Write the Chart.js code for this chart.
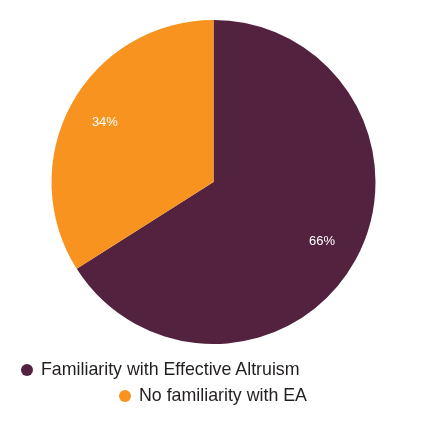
<!DOCTYPE html>
<html>
<head>
<meta charset="utf-8">
<script src="https://cdn.jsdelivr.net/npm/chart.js@4/dist/chart.umd.min.js"></script>
<style>
  html, body { margin: 0; padding: 0; background: #fff; }
  #wrap { position: relative; width: 427px; height: 426px; }
  #legend { position: absolute; left: 0; top: 0; width: 427px; height: 426px; pointer-events: none;
    font-family: "Liberation Sans", Arial, sans-serif; font-size: 17.8px; color: #231f20; }
  .item { position: absolute; white-space: nowrap; line-height: 20px; }
  .dot { display: inline-block; width: 12px; height: 12px; border-radius: 50%; margin-right: 8px; vertical-align: -1px; }
</style>
</head>
<body>
<div id="wrap">
  <canvas id="pie" width="427" height="426"></canvas>
  <div id="legend"></div>
</div>
<script>
const categories = ["Familiarity with Effective Altruism", "No familiarity with EA"];
const shares = [66, 34];
const colors = ["#53223f", "#f7931e"];

// labels inside the slices
const sliceLabels = {
  id: "sliceLabels",
  afterDatasetsDraw(chart) {
    const ctx = chart.ctx;
    const meta = chart.getDatasetMeta(0);
    ctx.save();
    ctx.fillStyle = "#ffffff";
    ctx.font = "13px 'Liberation Sans', Arial, sans-serif";
    ctx.textAlign = "center";
    ctx.textBaseline = "middle";
    meta.data.forEach(function (arc, i) {
      const mid = (arc.startAngle + arc.endAngle) / 2;
      const r = arc.outerRadius * 0.765;
      ctx.fillText(shares[i] + "%", arc.x + Math.cos(mid) * r, arc.y + Math.sin(mid) * r);
    });
    ctx.restore();
  }
};

new Chart(document.getElementById("pie").getContext("2d"), {
  type: "pie",
  data: {
    labels: categories,
    datasets: [{ data: shares, backgroundColor: colors, borderWidth: 0 }]
  },
  options: {
    responsive: false,
    animation: false,
    layout: { padding: { top: 20, bottom: 82, left: 0, right: 0 } },
    plugins: { legend: { display: false }, tooltip: { enabled: false } }
  },
  plugins: [sliceLabels]
});

// legend rows (placed like the reference)
const legendPos = [[21, 359], [119, 385]];
const legend = document.getElementById("legend");
categories.forEach(function (name, i) {
  const el = document.createElement("div");
  el.className = "item";
  el.style.left = legendPos[i][0] + "px";
  el.style.top = legendPos[i][1] + "px";
  el.innerHTML = '<span class="dot" style="background:' + colors[i] + '"></span>' + name;
  legend.appendChild(el);
});
</script>
</body>
</html>
